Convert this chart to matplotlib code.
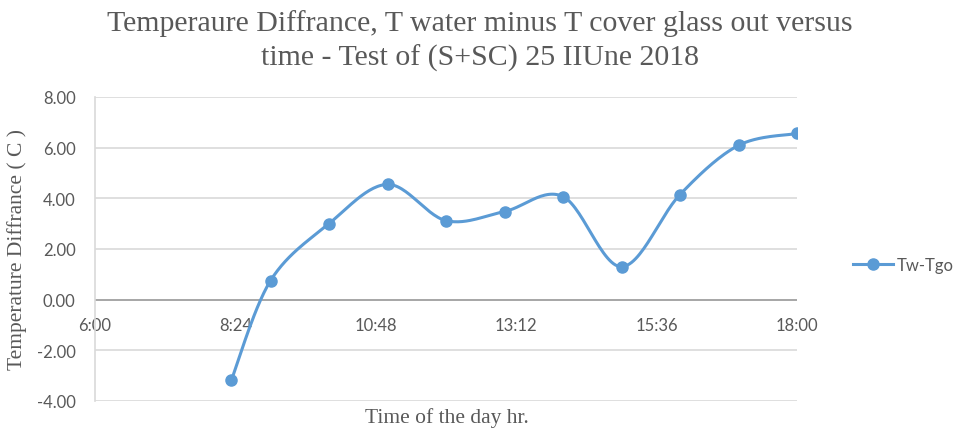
import numpy as np
import matplotlib.pyplot as plt
from matplotlib.lines import Line2D

# time of day in hours, temperature difference Tw - Tgo
hours = [8.33, 9, 10, 11, 12, 13, 14, 15, 16, 17, 18]
tw_tgo = [-3.18, 0.75, 3.0, 4.55, 3.12, 3.48, 4.07, 1.3, 4.15, 6.09, 6.56]

xtick_pos = [6, 8.4, 10.8, 13.2, 15.6, 18]
xtick_lab = ['6:00', '8:24', '10:48', '13:12', '15:36', '18:00']
ytick_pos = [-4, -2, 0, 2, 4, 6, 8]


def smooth(xs, ys, n=30):
    # excel style smoothed line: bezier through points, catmull-rom tangents
    p = np.column_stack([xs, ys]).astype(float)
    p = np.vstack([p[0], p, p[-1]])
    out = []
    t = np.linspace(0, 1, n)[:, None]
    for i in range(1, len(p) - 2):
        p0, p1, p2, p3 = p[i - 1], p[i], p[i + 1], p[i + 2]
        c1 = p1 + (p2 - p0) / 6
        c2 = p2 - (p3 - p1) / 6
        seg = ((1 - t) ** 3) * p1 + 3 * ((1 - t) ** 2) * t * c1 + 3 * (1 - t) * t ** 2 * c2 + t ** 3 * p2
        out.append(seg)
    out = np.vstack(out)
    return out[:, 0], out[:, 1]


blue = '#5B9BD5'
grey = '#595959'
serif = 'Liberation Serif'
sans = 'Lato'

fig = plt.figure(figsize=(9.58, 4.35), dpi=100)
ax = fig.add_axes([95 / 958, 1 - 402 / 435, (797 - 95) / 958, (402 - 98) / 435])

sx, sy = smooth(hours, tw_tgo)
ax.plot(sx, sy, color=blue, lw=2.2, zorder=3, solid_capstyle='round')
ax.plot(hours, tw_tgo, 'o', color=blue, ms=8, zorder=4)

ax.set_xlim(6, 18)
ax.set_ylim(-4, 8)
ax.set_xticks(xtick_pos)
ax.set_xticklabels(xtick_lab)
ax.set_yticks(ytick_pos)
ax.set_yticklabels(['%.2f' % v for v in ytick_pos])

for v in ytick_pos:
    if v != 0:
        ax.axhline(v, color='#D9D9D9', lw=1.2, zorder=1)
ax.axhline(0, color='#A6A6A6', lw=1.4, zorder=2)

for s in ['top', 'right', 'bottom']:
    ax.spines[s].set_visible(False)
ax.spines['left'].set_color('#D9D9D9')
ax.spines['left'].set_linewidth(1.2)

ax.tick_params(axis='x', length=0, pad=0, labelsize=12, labelcolor=grey)
ax.tick_params(axis='y', length=0, pad=14, labelsize=12, labelcolor=grey)
for lab in ax.get_xticklabels() + ax.get_yticklabels():
    lab.set_fontfamily(sans)
# x labels sit just under the zero line
for lab in ax.get_xticklabels():
    lab.set_y(0.335 - 0.06)

ax.set_ylabel('Temperature Diffrance ( C )', fontfamily=serif, fontsize=15.5, color=grey, labelpad=7)
fig.text(447 / 958, 1 - 418 / 435, 'Time of the day hr.', ha='center', va='center',
         fontfamily=serif, fontsize=15.5, color=grey)

fig.text(480 / 958, 1 - 41 / 435,
         'Temperaure Diffrance, T water minus T cover glass out versus\ntime - Test of (S+SC) 25 IIUne 2018',
         ha='center', va='center', fontfamily=serif, fontsize=21.5, color=grey, linespacing=1.35)

handle = Line2D([], [], color=blue, lw=2.2, marker='o', ms=8)
fig.legend([handle], ['Tw-Tgo'], loc='center left', bbox_to_anchor=(838 / 958, 1 - 266 / 435),
           frameon=False, prop={'family': sans, 'size': 12}, labelcolor=grey,
           handlelength=2.4, handletextpad=0.2)

fig.savefig('out.png', dpi=100)
